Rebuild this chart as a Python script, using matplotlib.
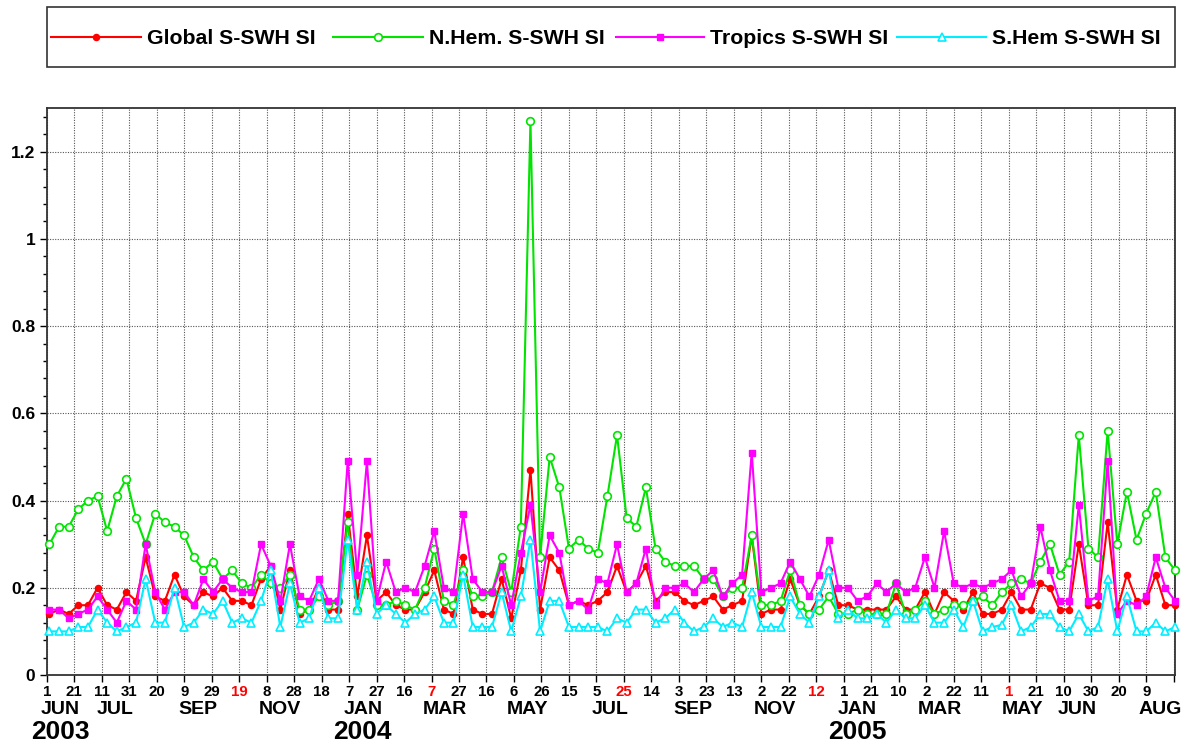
import matplotlib
matplotlib.use("Agg")
import matplotlib.pyplot as plt
import matplotlib.dates as mdates
from matplotlib.ticker import MultipleLocator, FuncFormatter
from matplotlib.lines import Line2D
from matplotlib.patches import Rectangle
import pandas as pd

# ---------------- data ----------------
dates = pd.date_range("2003-06-03", periods=118, freq="7D")

global_si = [
    0.14, 0.15, 0.14, 0.16, 0.16, 0.20, 0.16, 0.15, 0.19, 0.17, 0.27, 0.18, 0.17, 0.23, 0.18, 0.16, 0.19, 0.18, 0.20,
    0.17, 0.17, 0.16, 0.22, 0.25, 0.15, 0.24, 0.14, 0.15, 0.20, 0.15, 0.15, 0.37, 0.18, 0.32, 0.17, 0.19, 0.16, 0.15, 0.15, 0.19,
    0.24, 0.15, 0.14, 0.27, 0.15, 0.14, 0.14, 0.22, 0.13, 0.24, 0.47, 0.15, 0.27, 0.24, 0.16, 0.17, 0.16, 0.17, 0.19, 0.25,
    0.19, 0.21, 0.25, 0.17, 0.19, 0.19, 0.17, 0.16, 0.17, 0.18, 0.15, 0.16, 0.17, 0.32, 0.14, 0.15, 0.15, 0.22, 0.16, 0.14,
    0.18, 0.24, 0.16, 0.16, 0.15, 0.15, 0.15, 0.15, 0.18, 0.15, 0.15, 0.19, 0.14, 0.19, 0.17, 0.15, 0.19, 0.14, 0.14, 0.15,
    0.19, 0.15, 0.15, 0.21, 0.20, 0.15, 0.15, 0.30, 0.16, 0.16, 0.35, 0.15, 0.23, 0.17, 0.17, 0.23, 0.16, 0.16,
]
nhem_si = [
    0.30, 0.34, 0.34, 0.38, 0.40, 0.41, 0.33, 0.41, 0.45, 0.36, 0.30, 0.37, 0.35, 0.34, 0.32, 0.27, 0.24, 0.26, 0.22,
    0.24, 0.21, 0.20, 0.23, 0.21, 0.20, 0.23, 0.15, 0.15, 0.18, 0.16, 0.17, 0.35, 0.15, 0.23, 0.16, 0.16, 0.17, 0.16, 0.15, 0.20,
    0.29, 0.17, 0.16, 0.24, 0.18, 0.18, 0.19, 0.27, 0.19, 0.34, 1.27, 0.27, 0.50, 0.43, 0.29, 0.31, 0.29, 0.28, 0.41, 0.55,
    0.36, 0.34, 0.43, 0.29, 0.26, 0.25, 0.25, 0.25, 0.22, 0.22, 0.18, 0.20, 0.20, 0.32, 0.16, 0.16, 0.17, 0.24, 0.16, 0.14,
    0.15, 0.18, 0.14, 0.14, 0.15, 0.14, 0.14, 0.14, 0.21, 0.14, 0.15, 0.17, 0.14, 0.15, 0.16, 0.16, 0.17, 0.18, 0.16, 0.19,
    0.21, 0.22, 0.21, 0.26, 0.30, 0.23, 0.26, 0.55, 0.29, 0.27, 0.56, 0.30, 0.42, 0.31, 0.37, 0.42, 0.27, 0.24,
]
tropics_si = [
    0.15, 0.15, 0.13, 0.14, 0.15, 0.18, 0.15, 0.12, 0.17, 0.15, 0.30, 0.19, 0.15, 0.19, 0.19, 0.16, 0.22, 0.19, 0.22,
    0.20, 0.19, 0.19, 0.30, 0.25, 0.17, 0.30, 0.18, 0.17, 0.22, 0.17, 0.17, 0.49, 0.23, 0.49, 0.17, 0.26, 0.19, 0.20, 0.19, 0.25,
    0.33, 0.20, 0.19, 0.37, 0.22, 0.19, 0.19, 0.25, 0.16, 0.28, 0.39, 0.19, 0.32, 0.28, 0.16, 0.17, 0.15, 0.22, 0.21, 0.30,
    0.19, 0.21, 0.29, 0.16, 0.20, 0.20, 0.21, 0.19, 0.22, 0.24, 0.18, 0.21, 0.23, 0.51, 0.19, 0.20, 0.21, 0.26, 0.22, 0.18,
    0.23, 0.31, 0.20, 0.20, 0.17, 0.18, 0.21, 0.19, 0.21, 0.19, 0.20, 0.27, 0.20, 0.33, 0.21, 0.20, 0.21, 0.20, 0.21, 0.22,
    0.24, 0.18, 0.21, 0.34, 0.24, 0.17, 0.17, 0.39, 0.17, 0.18, 0.49, 0.14, 0.17, 0.16, 0.18, 0.27, 0.20, 0.17,
]
shem_si = [
    0.10, 0.10, 0.10, 0.11, 0.11, 0.15, 0.12, 0.10, 0.11, 0.12, 0.22, 0.12, 0.12, 0.20, 0.11, 0.12, 0.15, 0.14, 0.17,
    0.12, 0.13, 0.12, 0.17, 0.24, 0.11, 0.21, 0.12, 0.13, 0.20, 0.13, 0.13, 0.31, 0.15, 0.26, 0.14, 0.16, 0.14, 0.12, 0.14, 0.15,
    0.18, 0.12, 0.12, 0.23, 0.11, 0.11, 0.11, 0.19, 0.10, 0.18, 0.31, 0.10, 0.17, 0.17, 0.11, 0.11, 0.11, 0.11, 0.10, 0.13,
    0.12, 0.15, 0.15, 0.12, 0.13, 0.15, 0.12, 0.10, 0.11, 0.13, 0.11, 0.12, 0.11, 0.19, 0.11, 0.11, 0.11, 0.18, 0.14, 0.12,
    0.18, 0.24, 0.13, 0.15, 0.13, 0.13, 0.14, 0.12, 0.15, 0.13, 0.13, 0.16, 0.12, 0.12, 0.15, 0.11, 0.17, 0.10, 0.11, 0.115,
    0.16, 0.10, 0.11, 0.14, 0.14, 0.11, 0.10, 0.14, 0.10, 0.11, 0.22, 0.10, 0.18, 0.10, 0.10, 0.12, 0.10, 0.11,
]

series_names = ["Global S-SWH SI", "N.Hem. S-SWH SI", "Tropics S-SWH SI", "S.Hem S-SWH SI"]

tick_dates = pd.date_range("2003-06-01", periods=42, freq="20D")
day_labels = ["1", "21", "11", "31", "20", "9", "29", "19", "8", "28", "18", "7", "27", "16",
              "7", "27", "16", "6", "26", "15", "5", "25", "14", "3", "23", "13", "2", "22",
              "12", "1", "21", "10", "2", "22", "11", "1", "21", "10", "30", "20", "9", ""]
red_day_idx = [7, 14, 21, 28, 35]
month_labels = [("JUN", 0), ("JUL", 2), ("SEP", 5), ("NOV", 8), ("JAN", 11), ("MAR", 14),
                ("MAY", 17), ("JUL", 20), ("SEP", 23), ("NOV", 26), ("JAN", 29), ("MAR", 32),
                ("MAY", 35), ("JUN", 37), ("AUG", 40)]
year_labels = [("2003", 0), ("2004", 11), ("2005", 29)]

# ---------------- style ----------------
FONT = "Liberation Sans"
plt.rcParams["font.family"] = [FONT, "DejaVu Sans"]
plt.rcParams["font.weight"] = "bold"

styles = [
    dict(color="#ff0000", marker="o", markersize=4.4, markerfacecolor="#ff0000", markeredgecolor="#ff0000"),
    dict(color="#00e400", marker="o", markersize=5.5, markerfacecolor="white", markeredgecolor="#00e400", markeredgewidth=1.2),
    dict(color="#ff00ff", marker="s", markersize=5.0, markerfacecolor="#ff00ff", markeredgecolor="#ff00ff"),
    dict(color="#00eeff", marker="^", markersize=5.5, markerfacecolor="white", markeredgecolor="#00eeff", markeredgewidth=1.2),
]

W, H = 1185, 744
fig = plt.figure(figsize=(W / 100, H / 100), dpi=100)
ax_left, ax_right, ax_top, ax_bottom = 46.7, 1175, 108, 675
ax = fig.add_axes([ax_left / W, 1 - ax_bottom / H, (ax_right - ax_left) / W, (ax_bottom - ax_top) / H])

for vals, name, st in zip([global_si, nhem_si, tropics_si, shem_si], series_names, styles):
    ax.plot(dates, vals, linewidth=1.5, label=name, clip_on=False, zorder=3, **st)

ax.set_xlim(pd.Timestamp("2003-06-01"), pd.Timestamp("2005-08-30"))
ax.set_ylim(0, 1.3)

ax.set_xticks(tick_dates)
ax.set_xticklabels(day_labels)
ax.yaxis.set_major_locator(MultipleLocator(0.2))
ax.yaxis.set_minor_locator(MultipleLocator(0.04))
ax.yaxis.set_major_formatter(FuncFormatter(lambda v, p: "%g" % round(v, 2)))

ax.tick_params(axis="x", which="major", direction="out", length=5, width=1, pad=2,
               labelsize=10.8, colors="black")
ax.tick_params(axis="y", which="major", direction="out", length=5.3, width=1, pad=3,
               labelsize=12.5)
ax.tick_params(axis="y", which="minor", direction="out", length=2.9, width=1)
for i, lab in enumerate(ax.get_xticklabels()):
    lab.set_fontweight("bold")
    lab.set_family(FONT)
    if i in red_day_idx:
        lab.set_color("#ff0000")
for lab in ax.get_yticklabels():
    lab.set_fontweight("bold")
    lab.set_family(FONT)

ax.grid(True, which="major", linestyle=(0, (1, 1.3)), color="#555555", linewidth=0.8)
ax.set_axisbelow(True)
for s in ax.spines.values():
    s.set_color("#333333")
    s.set_linewidth(1.3)

tnum = mdates.date2num(tick_dates)
xt = ax.get_xaxis_transform()
for lab, i in month_labels:
    ax.text((tnum[i] + tnum[i + 1]) / 2, -0.0600, lab, transform=xt, ha="center", va="center",
            fontsize=14, fontweight="bold", family=FONT)
for lab, i in year_labels:
    ax.text((tnum[i] + tnum[i + 1]) / 2, -0.1010, lab, transform=xt, ha="center", va="center",
            fontsize=19, fontweight="bold", family=FONT)

# ---------------- legend (drawn by hand, box spans the axes width) ----------------
def fx(px):
    return px / W

def fy(py):
    return 1 - py / H

fig.add_artist(Rectangle((fx(ax_left), fy(66.7)), fx(ax_right) - fx(ax_left), fy(6.7) - fy(66.7),
                         transform=fig.transFigure, facecolor="white", edgecolor="#333333",
                         linewidth=1.2, zorder=1))
leg_handle_x = [(51, 141), (333, 423), (616, 704), (897, 986)]
leg_y = 37
for (x0, x1), name, st in zip(leg_handle_x, series_names, styles):
    line_st = {k: v for k, v in st.items() if not k.startswith("marker")}
    fig.add_artist(Line2D([fx(x0), fx(x1)], [fy(leg_y), fy(leg_y)], transform=fig.transFigure,
                          linewidth=1.5, zorder=2, **line_st))
    fig.add_artist(Line2D([fx((x0 + x1) / 2)], [fy(leg_y)], transform=fig.transFigure,
                          linestyle="none", zorder=3, **st))
    fig.text(fx(x1 + 6), fy(leg_y), name, ha="left", va="center_baseline", fontsize=15.3,
             fontweight="bold", family=FONT, zorder=3)

fig.savefig("out.png", dpi=100)
